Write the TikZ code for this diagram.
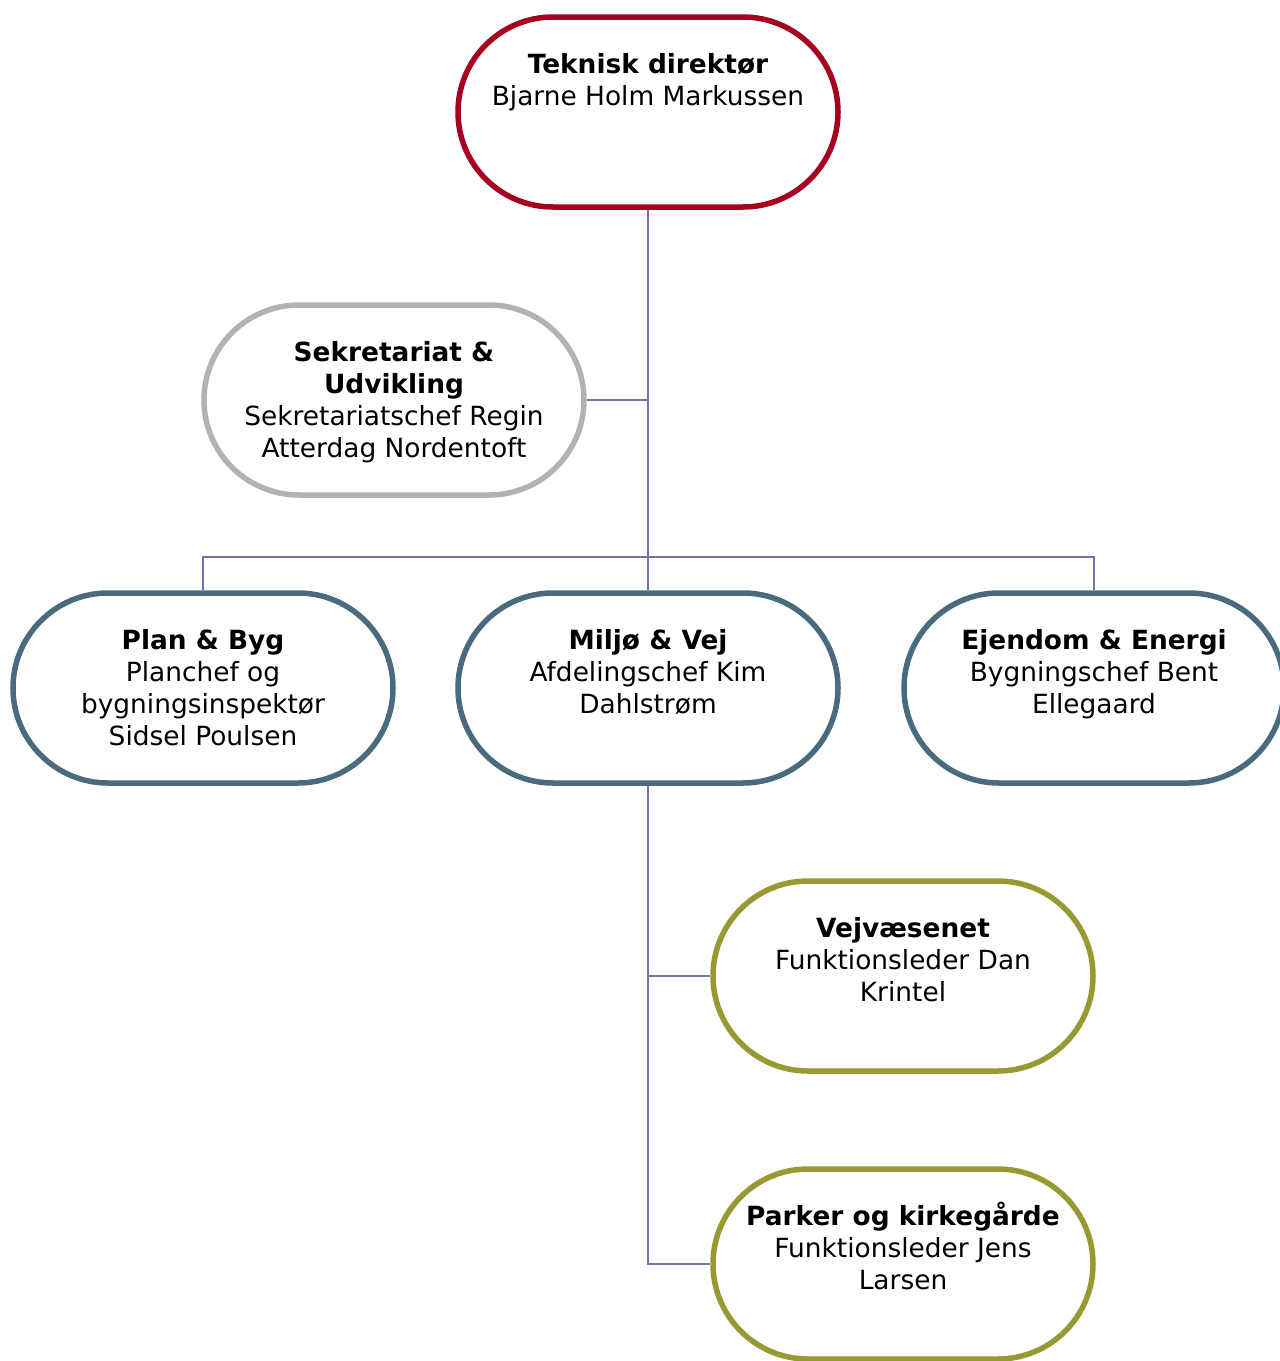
\documentclass[tikz,border=0pt]{standalone}
\usepackage{fontspec}
\setmainfont{DejaVu Sans}
\usepackage{xcolor}
\usepackage{tikz}
\usetikzlibrary{positioning,calc}
\definecolor{direktred}{HTML}{A50021}
\definecolor{staffgrey}{HTML}{B2B2B2}
\definecolor{deptslate}{HTML}{4A6A7E}
\definecolor{unitolive}{HTML}{999933}
\definecolor{linkviolet}{HTML}{7771AB}
\tikzset{
  orgbox/.style={
    rectangle, rounded corners=47.5pt, draw=#1, fill=white,
    line width=2.75pt, minimum width=190pt, minimum height=95pt,
    inner sep=0pt, font=\fontsize{13.2}{16}\selectfont
  },
  orgbox/.default=deptslate,
  orgline/.style={
    line width=1pt, color=#1
  },
  orgline/.default=linkviolet,
}
\newcommand{\boxtext}[2]{\parbox[c][95pt][t]{185pt}{\centering
  \rule{0pt}{28pt}\textbf{#1}\\#2}}

\begin{document}
\begin{tikzpicture}[x=0.5pt, y=-0.5pt]
  \clip (0,0) rectangle (1280,1361);

  % Director
  \node[orgbox=direktred] (tek) at (648,112)
    {\boxtext{Teknisk direktør}{Bjarne Holm Markussen}};

  % Staff
  \node[orgbox=staffgrey] (sek) at (394,400)
    {\boxtext{Sekretariat \&\\Udvikling}{Sekretariatschef Regin\\Atterdag Nordentoft}};

  % Departments
  \node[orgbox] (plan) at (203,688)
    {\boxtext{Plan \& Byg}{Planchef og\\bygningsinspektør\\Sidsel Poulsen}};
  \node[orgbox] (milj) at (648,688)
    {\boxtext{Miljø \& Vej}{Afdelingschef Kim\\Dahlstrøm}};
  \node[orgbox] (ejen) at (1094,688)
    {\boxtext{Ejendom \& Energi}{Bygningschef Bent\\Ellegaard}};

  % Units under Miljø & Vej
  \node[orgbox=unitolive] (vejv) at (903,976)
    {\boxtext{Vejvæsenet}{Funktionsleder Dan\\Krintel}};
  \node[orgbox=unitolive] (park) at (903,1264)
    {\boxtext{Parker og kirkegårde}{Funktionsleder Jens\\Larsen}};

  % Connectors
  \coordinate (bus) at (648,557);
  \begin{scope}[on background layer/.try]
    \draw[orgline] (tek.south) -- (milj.north);
    \draw[orgline] (sek.east) -- (sek.east -| tek.south);
    \draw[orgline] (plan.north) |- (bus) -| (ejen.north);
    \draw[orgline] (milj.south) |- (park.west);
    \draw[orgline] (vejv.west) -- (vejv.west -| milj.south);
  \end{scope}
\end{tikzpicture}
\end{document}
